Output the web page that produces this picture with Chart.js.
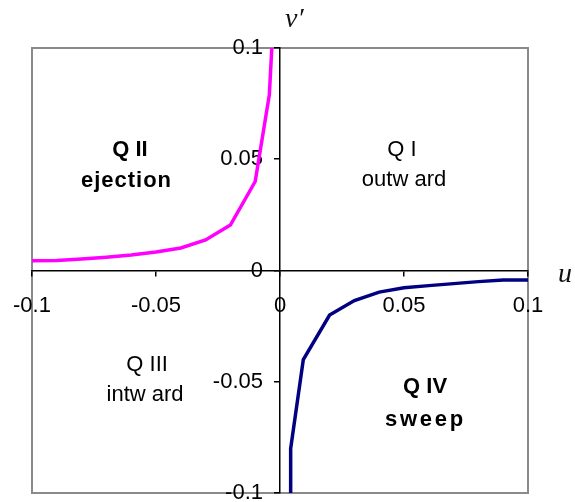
<!DOCTYPE html>
<html>
<head>
<meta charset="utf-8">
<script src="https://cdn.jsdelivr.net/npm/chart.js@4/dist/chart.umd.min.js"></script>
<style>
  html, body { margin: 0; padding: 0; background: #fff; }
  #wrap { width: 575px; height: 502px; }
</style>
</head>
<body>
<div id="wrap"><canvas id="c" width="575" height="502"></canvas></div>
<script>
// Quadrant II curve (ejection events): u vs v'
const ejectionU = [-0.1, -0.09, -0.08, -0.07, -0.06, -0.05, -0.04, -0.03, -0.02, -0.01, -0.0043, -0.0033];
const ejectionV = [0.0044, 0.0045, 0.0052, 0.006, 0.007, 0.0083, 0.0101, 0.0137, 0.0204, 0.040, 0.079, 0.1];

// Quadrant IV curve (sweep events): u vs v'
const sweepU = [0.1, 0.09, 0.08, 0.07, 0.06, 0.05, 0.04, 0.03, 0.02, 0.0094, 0.0043, 0.0043];
const sweepV = [-0.0043, -0.0043, -0.005, -0.0059, -0.0068, -0.0078, -0.0097, -0.0135, -0.020, -0.040, -0.080, -0.1];

// Axis ticks
const xTickValues = [-0.1, -0.05, 0, 0.05, 0.1];
const xTickLabels = ['-0.1', '-0.05', '0', '0.05', '0.1'];
const yTickValues = [-0.1, -0.05, 0, 0.05, 0.1];
const yTickLabels = ['-0.1', '-0.05', '0', '0.05', '0.1'];

// Quadrant captions
const quadrantTitles = ['Q I', 'Q II', 'Q III', 'Q IV'];
const quadrantNames = ['outw ard', 'ejection', 'intw ard', 'sweep'];

const toPoints = (us, vs) => us.map((u, i) => ({ x: u, y: vs[i] }));

const FONT = "'Liberation Sans', Arial, sans-serif";
const SERIF = "'Liberation Serif', 'Times New Roman', serif";

// gray frame around the plotting area
const framePlugin = {
  id: 'frame',
  beforeDraw(chart) {
    const { ctx, chartArea: a } = chart;
    ctx.save();
    ctx.strokeStyle = '#8a8a8a';
    ctx.lineWidth = 2;
    ctx.strokeRect(a.left, a.top, a.right - a.left, a.bottom - a.top);
    ctx.restore();
  }
};

// move both axes so they cross at the origin
const crossAxesPlugin = {
  id: 'crossAxes',
  afterLayout(chart) {
    const xs = chart.scales.x, ys = chart.scales.y;
    const x0 = xs.getPixelForValue(0);
    const y0 = ys.getPixelForValue(0);
    ys.left = 0;
    ys.right = x0;
    xs.top = y0;
    xs.bottom = chart.height;
  }
};

// quadrant captions and axis titles
const textPlugin = {
  id: 'texts',
  afterDraw(chart) {
    const { ctx } = chart;
    const xs = chart.scales.x, ys = chart.scales.y;
    const put = (text, u, v, font, spacing) => {
      ctx.save();
      ctx.font = font;
      ctx.fillStyle = '#000';
      ctx.textAlign = 'center';
      ctx.textBaseline = 'middle';
      let px = xs.getPixelForValue(u);
      if (spacing) {
        ctx.letterSpacing = spacing + 'px';
        px += spacing / 2;
      }
      ctx.fillText(text, px, ys.getPixelForValue(v));
      ctx.restore();
    };
    const bold = 'bold 22px ' + FONT;
    const norm = '22px ' + FONT;
    put(quadrantTitles[0], 0.0492, 0.0542, norm);
    put(quadrantNames[0], 0.050, 0.0409, norm);
    put(quadrantTitles[1], -0.0605, 0.0542, bold);
    put(quadrantNames[1], -0.0621, 0.0402, bold, 1);
    put(quadrantTitles[2], -0.0536, -0.0425, norm);
    put(quadrantNames[2], -0.0544, -0.0560, norm);
    put(quadrantTitles[3], 0.0585, -0.0524, bold);
    put(quadrantNames[3], 0.0581, -0.0672, bold, 2.7);

    // axis titles
    ctx.save();
    ctx.font = 'italic 28px ' + SERIF;
    ctx.fillStyle = '#111';
    ctx.textAlign = 'left';
    ctx.textBaseline = 'alphabetic';
    ctx.fillText('v\u2032', 285, 27);
    ctx.fillText('u', 558, 282);
    ctx.restore();
  }
};

const axisCommon = {
  type: 'linear',
  min: -0.1,
  max: 0.1,
  border: { display: true, color: '#000', width: 1.5 },
  grid: { display: true, drawOnChartArea: false, drawTicks: true, tickLength: 6, color: '#000', lineWidth: 1.5 },
};

new Chart(document.getElementById('c'), {
  type: 'scatter',
  data: {
    datasets: [
      {
        label: 'ejection',
        data: toPoints(ejectionU, ejectionV),
        showLine: true,
        borderColor: '#ff00ff',
        borderWidth: 3.5,
        pointRadius: 0,
        tension: 0,
        fill: false
      },
      {
        label: 'sweep',
        data: toPoints(sweepU, sweepV),
        showLine: true,
        borderColor: '#000080',
        borderWidth: 3.5,
        pointRadius: 0,
        tension: 0,
        fill: false
      }
    ]
  },
  options: {
    responsive: false,
    animation: false,
    layout: { padding: { left: 32, top: 48, right: 47, bottom: 9 } },
    plugins: { legend: { display: false }, tooltip: { enabled: false } },
    scales: {
      x: Object.assign({}, axisCommon, {
        position: 'bottom',
        afterBuildTicks: s => { s.ticks = xTickValues.map(v => ({ value: v })); },
        afterFit: s => { s.height = 0; s.paddingLeft = 0; s.paddingRight = 0; },
        ticks: {
          color: '#000',
          font: { family: FONT, size: 22 },
          padding: 16,
          maxRotation: 0,
          minRotation: 0,
          callback: (v, i) => xTickLabels[i]
        }
      }),
      y: Object.assign({}, axisCommon, {
        position: 'left',
        afterBuildTicks: s => { s.ticks = yTickValues.map(v => ({ value: v })); },
        afterFit: s => { s.width = 0; s.paddingTop = 0; s.paddingBottom = 0; },
        ticks: {
          color: '#000',
          font: { family: FONT, size: 22 },
          padding: 11,
          callback: (v, i) => yTickLabels[i]
        }
      })
    }
  },
  plugins: [framePlugin, crossAxesPlugin, textPlugin]
});
</script>
</body>
</html>
